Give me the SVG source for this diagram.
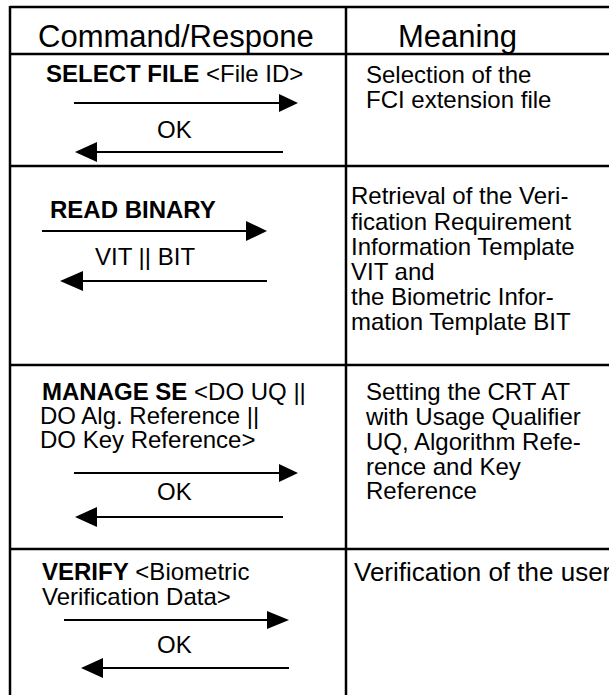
<svg xmlns="http://www.w3.org/2000/svg" width="609" height="695" viewBox="0 0 609 695">
<style>
.grid{stroke:#000;stroke-width:2.5;fill:none}
.ln{stroke:#000;stroke-width:2;fill:none}
.hd{fill:#000;stroke:none}
text{font-family:"Liberation Sans",Arial,sans-serif;font-size:24px;fill:#000}
.h{font-size:31px}
.b{font-weight:bold}
.big{font-size:26px}
</style>
<rect width="609" height="695" fill="#fff"/>
<g id="table" class="grid">
<line x1="10" y1="7" x2="609" y2="7"/>
<line x1="10" y1="6" x2="10" y2="695"/>
<line x1="346" y1="6" x2="346" y2="695"/>
<line x1="10" y1="54" x2="609" y2="54"/>
<line x1="10" y1="166" x2="609" y2="166"/>
<line x1="10" y1="365" x2="609" y2="365"/>
<line x1="10" y1="549" x2="609" y2="549"/>
</g>
<g id="header">
<text class="h" x="38" y="47">Command/Respone</text>
<text class="h" x="398" y="47">Meaning</text>
</g>
<g id="row1">
<text x="46" y="82"><tspan class="b">SELECT FILE</tspan> &lt;File ID&gt;</text>
<text x="157" y="138">OK</text>
<text x="366" y="83">Selection of the</text>
<text x="366" y="108">FCI extension file</text>
</g>
<g id="row2">
<text class="b" x="50" y="218">READ BINARY</text>
<text x="95" y="265">VIT || BIT</text>
<text x="351" y="204">Retrieval of the Veri-</text>
<text x="351" y="230">fication Requirement</text>
<text x="351" y="255">Information Template</text>
<text x="351" y="280">VIT and</text>
<text x="351" y="305">the Biometric Infor-</text>
<text x="351" y="330">mation Template BIT</text>
</g>
<g id="row3">
<text x="42" y="400"><tspan class="b">MANAGE SE</tspan> &lt;DO UQ ||</text>
<text x="40" y="424">DO Alg. Reference ||</text>
<text x="40" y="448">DO Key Reference&gt;</text>
<text x="157" y="500">OK</text>
<text x="366" y="400">Setting the CRT AT</text>
<text x="366" y="425">with Usage Qualifier</text>
<text x="366" y="450">UQ, Algorithm Refe-</text>
<text x="366" y="475">rence and Key</text>
<text x="366" y="499">Reference</text>
</g>
<g id="row4">
<text x="42" y="580"><tspan class="b">VERIFY</tspan> &lt;Biometric</text>
<text x="42" y="605">Verification Data&gt;</text>
<text x="157" y="653">OK</text>
<text class="big" x="354" y="581">Verification of the user</text>
</g>
<g id="connectors">
<line class="ln" x1="74" y1="103" x2="282" y2="103"/>
<polygon class="hd" points="279,94 298,103 279,112"/>
<line class="ln" x1="95" y1="152" x2="283" y2="152"/>
<polygon class="hd" points="97,142 75,152 97,162"/>
<line class="ln" x1="42" y1="231" x2="249" y2="231"/>
<polygon class="hd" points="246,221 267,231 246,241"/>
<line class="ln" x1="80" y1="281" x2="267" y2="281"/>
<polygon class="hd" points="83,271 60,281 83,291"/>
<line class="ln" x1="74" y1="473" x2="282" y2="473"/>
<polygon class="hd" points="279,464 298,473 279,482"/>
<line class="ln" x1="95" y1="517" x2="283" y2="517"/>
<polygon class="hd" points="97,507 75,517 97,527"/>
<line class="ln" x1="64" y1="620" x2="270" y2="620"/>
<polygon class="hd" points="267,611 289,620 267,629"/>
<line class="ln" x1="100" y1="668" x2="289" y2="668"/>
<polygon class="hd" points="103,658 81,668 103,678"/>
</g>
</svg>
